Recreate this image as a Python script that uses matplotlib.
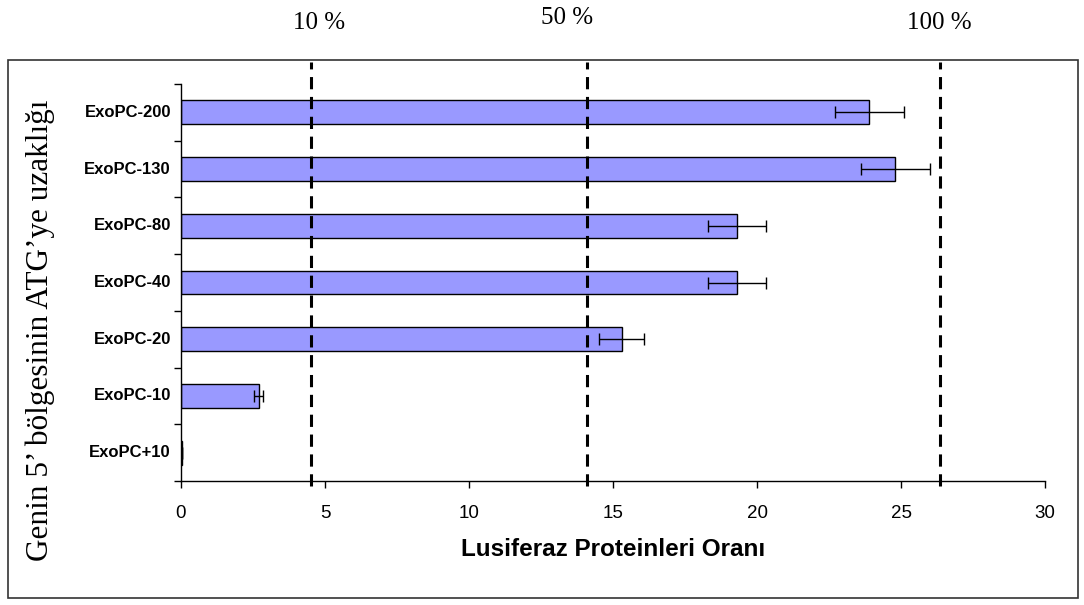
import matplotlib
matplotlib.use("Agg")
import matplotlib.pyplot as plt
from matplotlib.patches import Rectangle
from matplotlib.transforms import blended_transform_factory

categories = ["ExoPC-200", "ExoPC-130", "ExoPC-80", "ExoPC-40", "ExoPC-20", "ExoPC-10", "ExoPC+10"]
values = [23.9, 24.8, 19.3, 19.3, 15.3, 2.7, 0.05]
errors = [1.2, 1.2, 1.0, 1.0, 0.77, 0.15, 0.0]
ref_lines = [4.5, 14.1, 26.35]
ref_labels = ["10 %", "50 %", "100 %"]
xticks = [0, 5, 10, 15, 20, 25, 30]

W, H = 1084, 605
fig = plt.figure(figsize=(W / 100, H / 100), dpi=100)
ax = fig.add_axes([181 / W, 1 - 481 / H, (1045 - 181) / W, (481 - 84) / H])

n = len(categories)
ypos = [n - 0.5 - i for i in range(n)]
ax.barh(ypos, values, height=0.42, color="#9999FF", edgecolor="black", linewidth=1.0, zorder=2)
ax.errorbar(values, ypos, xerr=errors, fmt="none", ecolor="black", elinewidth=1.0,
            capsize=4, capthick=1.0, zorder=3)

ax.set_xlim(0, 30)
ax.set_ylim(0, n)
ax.set_xticks(xticks)
ax.set_xticklabels([str(t) for t in xticks], fontsize=13.5, family="Liberation Sans")
ax.set_yticks(range(n + 1))
ax.set_yticklabels([])
ax.tick_params(axis="y", direction="out", length=5, width=1)
ax.tick_params(axis="x", direction="out", length=5, width=1, pad=12)
for y, lab in zip(ypos, categories):
    ax.text(-0.35, y, lab, transform=ax.transData, ha="right", va="center",
            fontsize=12, fontweight="bold", family="Liberation Sans")
for s in ["top", "right"]:
    ax.spines[s].set_visible(False)
ax.spines["left"].set_linewidth(1.0)
ax.spines["bottom"].set_linewidth(1.0)

ax.set_xlabel("Lusiferaz Proteinleri Oranı", fontsize=17.5, fontweight="bold",
              family="Liberation Sans", labelpad=12)

# reference dashed lines
tr = blended_transform_factory(ax.transData, fig.transFigure)
for xv in ref_lines:
    ax.plot([xv, xv], [1 - 486 / H, 1 - 62 / H], transform=tr, color="black",
            linestyle=(0, (4, 2.5)), linewidth=2.2, clip_on=False, zorder=4)

label_y = [23, 18, 23]
label_x = [319, 567, 939]
for lx, ly, lab in zip(label_x, label_y, ref_labels):
    fig.text(lx / W, 1 - ly / H, lab, ha="center", va="center", fontsize=18,
             family="Liberation Serif")

# y label
fig.text(40 / W, 1 - 330 / H, "Genin 5’ bölgesinin ATG’ye uzaklığı", rotation=90,
         ha="center", va="center", fontsize=22.5, family="Liberation Serif")

# outer box
fig.patches.append(Rectangle((8 / W, 1 - 598 / H), (1078 - 8) / W, (598 - 60) / H,
                             transform=fig.transFigure, fill=False, edgecolor="#333333",
                             linewidth=1.2))

fig.savefig("out.png", dpi=100)
